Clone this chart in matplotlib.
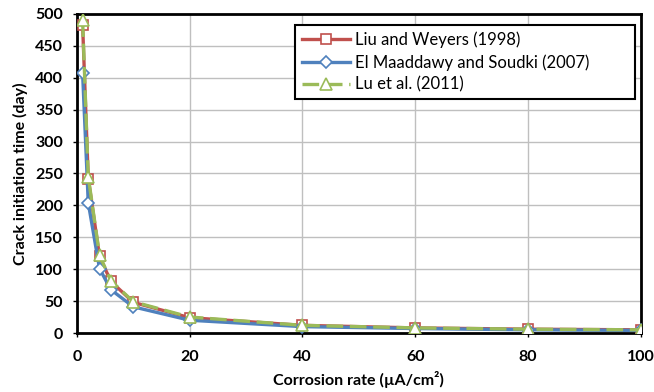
import numpy as np
import matplotlib.pyplot as plt

plt.rcParams['font.family'] = ['Lato', 'DejaVu Sans']

# corrosion rate (uA/cm2) and crack initiation time (day)
rate = [1, 2, 4, 6, 10, 20, 40, 60, 80, 100]
liu = [483, 242, 120, 81, 48, 24, 12, 8, 6, 5]
elm = [407, 204, 101, 68, 41, 20, 10, 7, 5, 4]
lu = [490, 245, 122, 82, 49, 25, 12, 8, 6, 5]

fig = plt.figure(figsize=(6.54, 3.92), dpi=100)
ax = fig.add_axes([0.1177, 0.1505, 0.862, 0.814])

ax.plot(rate, liu, color='#c0504d', lw=2.4, marker='s', ms=7, mfc='white',
        mec='#c0504d', mew=1.2, label='Liu and Weyers (1998)', zorder=3)
ax.plot(rate, elm, color='#4f81bd', lw=2.4, marker='D', ms=6, mfc='white',
        mec='#4f81bd', mew=1.2, label='El Maaddawy and Soudki (2007)', zorder=4)
ax.plot(rate, lu, color='#9bbb59', lw=2.4, ls=(0, (5, 2)), marker='^', ms=8.5,
        mfc='white', mec='#9bbb59', mew=1.2, label='Lu et al. (2011)', zorder=5)

ax.set_xlim(0, 100)
ax.set_ylim(0, 500)
ax.set_xticks(np.arange(0, 101, 20))
ax.set_yticks(np.arange(0, 501, 50))
ax.grid(True, color='#bfbfbf', lw=1)
ax.set_axisbelow(True)
for s in ax.spines.values():
    s.set_linewidth(2)
    s.set_color('black')
ax.tick_params(direction='out', length=3, width=1, labelsize=11.5)
ax.tick_params(axis='y', pad=7)
ax.tick_params(axis='x', pad=9)
for t in ax.get_xticklabels() + ax.get_yticklabels():
    t.set_fontweight('bold')

ax.set_xlabel('Corrosion rate (µA/cm²)', fontsize=11.5, fontweight='bold', labelpad=5)
ax.set_ylabel('Crack initiation time (day)', fontsize=11.5, fontweight='bold', labelpad=5)

leg = ax.legend(loc='upper left', bbox_to_anchor=(0.3865, 0.5, 0.6025, 0.465),
                mode='expand', fontsize=12,
                fancybox=False, framealpha=1, edgecolor='black',
                handlelength=2.9, handletextpad=0.3, borderpad=0.4,
                labelspacing=0.35, borderaxespad=0)
leg.get_frame().set_linewidth(1.5)

fig.savefig('out.png', dpi=100)
